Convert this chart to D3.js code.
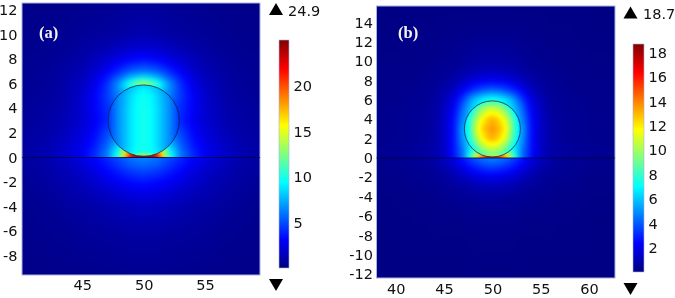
<!DOCTYPE html>
<html><head><meta charset="utf-8">
<style>html,body{margin:0;background:#fff;overflow:hidden}#w{position:relative;width:675px;height:298px}canvas,svg{position:absolute;left:0;top:0}
text{font-family:"DejaVu Sans";font-size:14.5px;fill:#111}</style>
<script src="https://cdnjs.cloudflare.com/ajax/libs/d3/7.8.5/d3.min.js"></script>
</head><body><div id="w"><canvas id="c" width="675" height="298"></canvas><svg id="s" width="675" height="298"></svg></div>
<script>
// distance from the sphere axis (|x-50|), shared column positions of the field tables
const dxCols = [0,1,2,3,4,5,6,7,8,10,13];
const airRows = [0,0.5,1,2,3,4,5,6,6.5,7,8,9,10,13,16];
const subRows = [0,-0.5,-1,-2,-3,-4,-6,-9,-13];
const sphRows = [0,0.15,0.4,1,2,3,4,5,5.6,6];
const sphCols = [0,0.5,1,1.5,2,2.5,3];

// Panel (a)
const aAir = [
[26,24,11,6,4.2,2.9,2.1,1.6,1.2,.8,.5],
[22,20,10,6,4,2.8,2.1,1.6,1.2,.8,.5],
[16,14,8.5,5.5,3.7,2.6,2,1.5,1.1,.8,.5],
[6,6,6,4.8,3.2,2.3,1.7,1.3,1,.7,.5],
[6,6,5,4,2.8,2,1.5,1.1,.9,.6,.4],
[6,6,5,4.2,3,2,1.4,1,.8,.6,.4],
[10,8,6.5,4.5,3,1.9,1.3,.9,.7,.5,.4],
[14,11,7,4.2,2.6,1.6,1.2,.8,.6,.5,.3],
[9,7.8,5.5,3.6,2.3,1.5,1.1,.8,.6,.5,.3],
[6,5.5,4.2,2.9,1.9,1.3,1,.7,.6,.4,.3],
[3.3,3,2.5,1.9,1.4,1,.8,.6,.5,.4,.3],
[1.9,1.8,1.5,1.2,1,.8,.6,.5,.4,.35,.25],
[1.2,1.1,.9,.8,.7,.6,.5,.4,.35,.3,.2],
[.5,.5,.45,.4,.35,.3,.3,.25,.2,.2,.15],
[.3,.3,.3,.25,.25,.2,.2,.2,.15,.15,.1]];
const aSub = [
[6.5,6,5,4,3.1,2.4,1.8,1.4,1.1,.7,.4],
[5.8,5.5,4.6,3.7,2.9,2.2,1.7,1.3,1,.7,.4],
[5,4.7,4,3.2,2.5,1.9,1.5,1.2,.9,.6,.4],
[3.5,3.3,2.9,2.4,1.9,1.5,1.2,1,.8,.5,.3],
[2.4,2.3,2,1.7,1.4,1.2,1,.8,.6,.4,.3],
[1.6,1.5,1.4,1.2,1,.9,.8,.6,.5,.35,.25],
[.9,.9,.8,.75,.7,.6,.5,.45,.4,.3,.2],
[.45,.45,.4,.4,.35,.35,.3,.3,.25,.2,.15],
[.2,.2,.2,.2,.2,.2,.15,.15,.15,.1,.1]];
const aSph = [
[24,22,14,9.5,7.5,5.8,4.2],
[14,13,11,8.5,7.5,5.8,4.2],
[10,9.7,9,8,7,5.7,4.2],
[9.8,9.5,8.8,7.8,6.8,5.6,4.2],
[9.8,9.5,8.8,7.8,6.8,5.5,4.1],
[9.8,9.5,8.8,7.8,6.8,5.5,4.1],
[9.8,9.5,8.8,7.8,6.8,5.5,4.1],
[9.6,9.3,8.6,7.6,6.7,5.5,4.1],
[9,8.7,8,7.2,6.3,5.2,4.1],
[8.2,8,7.4,6.6,5.8,4.9,4]];

// Panel (b)
const bAir = [
[17,16,9.5,4.5,2.6,1.3,.8,.6,.5,.4,.3],
[14,12,8.5,4.5,2.6,1.3,.8,.6,.5,.4,.3],
[10,9,7.5,4.8,2.6,1.3,.8,.6,.5,.35,.25],
[7,7,7,5.3,2.6,1.3,.7,.5,.4,.3,.25],
[6,6,6,5.5,2.6,1.3,.7,.5,.4,.3,.2],
[6,6,6,5,2.5,1.3,.7,.5,.4,.3,.2],
[7,7,6.5,4.5,2.2,1.2,.6,.45,.35,.3,.2],
[7.8,7,5.8,3.6,1.8,1,.55,.4,.35,.25,.2],
[6,5.5,4.5,2.9,1.5,.9,.5,.4,.3,.25,.2],
[4.2,3.9,3.2,2.2,1.2,.75,.45,.35,.3,.25,.2],
[2.1,2,1.7,1.2,.8,.5,.4,.3,.25,.2,.2],
[1.1,1.05,.9,.7,.5,.4,.3,.25,.2,.2,.15],
[.7,.65,.6,.5,.35,.3,.25,.2,.2,.15,.15],
[.25,.25,.25,.2,.2,.2,.15,.15,.15,.1,.1],
[.1,.1,.1,.1,.1,.1,.1,.1,.1,.1,.1]];
const bSub = [
[4.8,4.5,3.8,2.8,1.8,1.1,.7,.5,.4,.3,.2],
[4.2,3.9,3.3,2.4,1.6,1,.65,.5,.4,.3,.2],
[3.4,3.2,2.7,2,1.3,.85,.55,.4,.35,.25,.2],
[1.9,1.8,1.5,1.1,.8,.55,.4,.35,.3,.2,.15],
[1,1,.85,.65,.5,.4,.3,.25,.25,.2,.15],
[.55,.5,.45,.4,.35,.3,.25,.2,.2,.15,.1],
[.25,.25,.25,.2,.2,.2,.2,.15,.15,.1,.1],
[.15,.15,.15,.1,.1,.1,.1,.1,.1,.1,.1],
[.05,.05,.05,.05,.05,.05,.05,.05,.05,.05,.05]];
const bSph = [
[18,16,11,8,6.5,5.5,5.2],
[11,10.5,9.5,8,6.8,5.7,5.2],
[9,8.9,8.5,7.8,6.8,5.8,5.2],
[10.8,10.5,9.8,8.7,7.3,6.2,5.5],
[13,12.6,11.8,10.5,8.8,7,5.8],
[13.6,13.2,12.5,11.4,9.4,7.4,5.9],
[13,12.6,11.8,10.6,8.9,7.1,5.8],
[11,10.7,10,8.9,7.5,6.3,5.5],
[9,8.8,8.3,7.5,6.5,5.7,5.2],
[8,7.8,7.3,6.7,5.9,5.3,5]];

const aXTicks = [45,50,55];
const aYTicks = [12,10,8,6,4,2,0,-2,-4,-6,-8];
const aBarTicks = [5,10,15,20];
const bXTicks = [40,45,50,55,60];
const bYTicks = [14,12,10,8,6,4,2,0,-2,-4,-6,-8,-10,-12];
const bBarTicks = [2,4,6,8,10,12,14,16,18];
const jetStops = [0,.125,.375,.625,.875,1];
const jetColors = ["#000080","#0000ff","#00ffff","#ffff00","#ff0000","#800000"];

const panels = [
 {label:"(a)",labelX:39,labelY:38,air:aAir,sub:aSub,sph:aSph,
  xDomain:[40.1,59.47],yDomain:[12.56,-9.55],px:[22,260],py:[3,275],xTicks:aXTicks,yTicks:aYTicks,xPad:5,yPad:4.5,
  barTicks:aBarTicks,barDomain:[0.07,25],barX:[279,289],barY:[40,268],max:"24.9",maxV:25,triX:276,triUp:11,triDown:283,maxTextX:288,maxTextY:11},
 {label:"(b)",labelX:398,labelY:38,air:bAir,sub:bSub,sph:bSph,
  xDomain:[38,62.7],yDomain:[15.7,-12.4],px:[376.5,615],py:[6,278],xTicks:bXTicks,yTicks:bYTicks,xPad:6,yPad:3.5,
  barTicks:bBarTicks,barDomain:[0.03,18.7],barX:[633,644],barY:[44,272],max:"18.7",maxV:18.7,triX:630.5,triUp:14.5,triDown:287,maxTextX:643,maxTextY:14}
];
const R=2.9, CY=3, CX=50, PAD=16;

function lerp2(rows,cols,tab,r,c){
  const sr=Math.sign(rows[rows.length-1]-rows[0]);
  let i=d3.bisectRight(rows.map(v=>v*sr),r*sr)-1; i=Math.max(0,Math.min(rows.length-2,i));
  let j=d3.bisectRight(cols,c)-1; j=Math.max(0,Math.min(cols.length-2,j));
  const u=Math.max(0,Math.min(1,(r-rows[i])/(rows[i+1]-rows[i])));
  const v=Math.max(0,Math.min(1,(c-cols[j])/(cols[j+1]-cols[j])));
  return (tab[i][j]*(1-v)+tab[i][j+1]*v)*(1-u)+(tab[i+1][j]*(1-v)+tab[i+1][j+1]*v)*u;
}
const ctx=document.getElementById("c").getContext("2d");
const svg=d3.select("#s");
const defs=svg.append("defs");
panels.forEach((p,k)=>{
  const x=d3.scaleLinear(p.xDomain,p.px), y=d3.scaleLinear(p.yDomain,p.py);
  const color=d3.scaleLinear(jetStops.map(t=>t*p.maxV),jetColors).interpolate(d3.interpolateRgb).clamp(true);
  const w=p.px[1]-p.px[0], h=p.py[1]-p.py[0], x0=Math.floor(p.px[0])-PAD, y0=Math.floor(p.py[0])-PAD;
  const W=Math.ceil(w)+2*PAD, H=h+2*PAD;
  function layer(rows,cols,tab,blur){
    const raw=document.createElement("canvas");raw.width=W;raw.height=H;
    const rc=raw.getContext("2d"),img=rc.createImageData(W,H);
    for(let j=0;j<H;j++)for(let i=0;i<W;i++){
      const dx=Math.abs(x.invert(x0+i+.5)-CX), yv=y.invert(y0+j+.5);
      const c=d3.rgb(color(lerp2(rows,cols,tab,yv,dx))), o=(j*W+i)*4;
      img.data[o]=c.r;img.data[o+1]=c.g;img.data[o+2]=c.b;img.data[o+3]=255;
    }
    rc.putImageData(img,0,0);
    const out=document.createElement("canvas");out.width=W;out.height=H;
    const oc=out.getContext("2d");
    oc.drawImage(raw,0,0);
    oc.filter=`blur(${blur}px)`;
    oc.drawImage(raw,0,0);
    return out;
  }
  // plot region
  ctx.save();
  ctx.beginPath();ctx.rect(p.px[0],p.py[0],w,h);ctx.clip();
  ctx.drawImage(layer(airRows,dxCols,p.air,2.5),x0,y0);
  ctx.save();ctx.beginPath();ctx.rect(p.px[0],y(0),w,p.py[1]-y(0));ctx.clip();
  ctx.drawImage(layer(subRows,dxCols,p.sub,2.5),x0,y0);ctx.restore();
  ctx.save();ctx.beginPath();ctx.ellipse(x(CX),y(CY),x(CX+R)-x(CX),y(CY-R)-y(CY),0,0,2*Math.PI);ctx.clip();
  ctx.drawImage(layer(sphRows,sphCols,p.sph,1.2),x0,y0);ctx.restore();
  ctx.restore();

  const g=svg.append("g");
  g.append("rect").attr("x",p.px[0]).attr("y",p.py[0]).attr("width",w).attr("height",h)
    .attr("fill","none").attr("stroke","#aab2dc").attr("stroke-width",1);
  g.append("line").attr("x1",x(p.xDomain[0])).attr("x2",x(p.xDomain[1])).attr("y1",y(0)).attr("y2",y(0))
    .attr("stroke","#000040").attr("stroke-opacity",.8).attr("stroke-width",1);
  g.append("ellipse").attr("cx",x(CX)).attr("cy",y(CY)).attr("rx",x(CX+R)-x(CX)).attr("ry",y(CY-R)-y(CY))
    .attr("fill","none").attr("stroke","#102038").attr("stroke-opacity",.8).attr("stroke-width",.9);
  g.append("text").text(p.label).attr("x",p.labelX).attr("y",p.labelY)
    .style("font-family","'Liberation Serif'").style("font-weight","bold").style("font-size","16.5px").style("fill","#f4f4f4");

  const ax=g.append("g").attr("transform",`translate(0,${p.py[1]})`)
    .call(d3.axisBottom(x).tickValues(p.xTicks).tickFormat(String).tickSize(0).tickPadding(p.xPad));
  const ay=g.append("g").attr("transform",`translate(${p.px[0]},0)`)
    .call(d3.axisLeft(y).tickValues(p.yTicks).tickFormat(String).tickSize(0).tickPadding(p.yPad));
  [ax,ay].forEach(a=>{a.select(".domain").remove();a.selectAll("text").style("font-family","'DejaVu Sans'").style("font-size","14.5px").style("fill","#111");});

  // colour bar
  const gid="jet"+k;
  defs.append("linearGradient").attr("id",gid).attr("x1",0).attr("x2",0).attr("y1",1).attr("y2",0)
    .selectAll("stop").data(jetStops).join("stop").attr("offset",d=>d).attr("stop-color",(d,i)=>jetColors[i]);
  g.append("rect").attr("x",p.barX[0]).attr("y",p.barY[0]).attr("width",p.barX[1]-p.barX[0]).attr("height",p.barY[1]-p.barY[0])
    .attr("fill",`url(#${gid})`).attr("stroke","#aab2dc").attr("stroke-width",.6);
  const by=d3.scaleLinear(p.barDomain,[p.barY[1],p.barY[0]]);
  const ab=g.append("g").attr("transform",`translate(${p.barX[1]},0)`)
    .call(d3.axisRight(by).tickValues(p.barTicks).tickFormat(String).tickSize(0).tickPadding(4.5));
  ab.select(".domain").remove();
  ab.selectAll("text").style("font-family","'DejaVu Sans'").style("font-size","14.5px").style("fill","#111");

  const tri=d3.symbol(d3.symbolTriangle,85);
  g.append("path").attr("d",tri()).attr("transform",`translate(${p.triX},${p.triUp})`).attr("fill","#000");
  g.append("path").attr("d",tri()).attr("transform",`translate(${p.triX},${p.triDown}) rotate(180)`).attr("fill","#000");
  g.append("text").text(p.max).attr("x",p.maxTextX).attr("y",p.maxTextY).attr("dy",".36em");
});
</script></body></html>
